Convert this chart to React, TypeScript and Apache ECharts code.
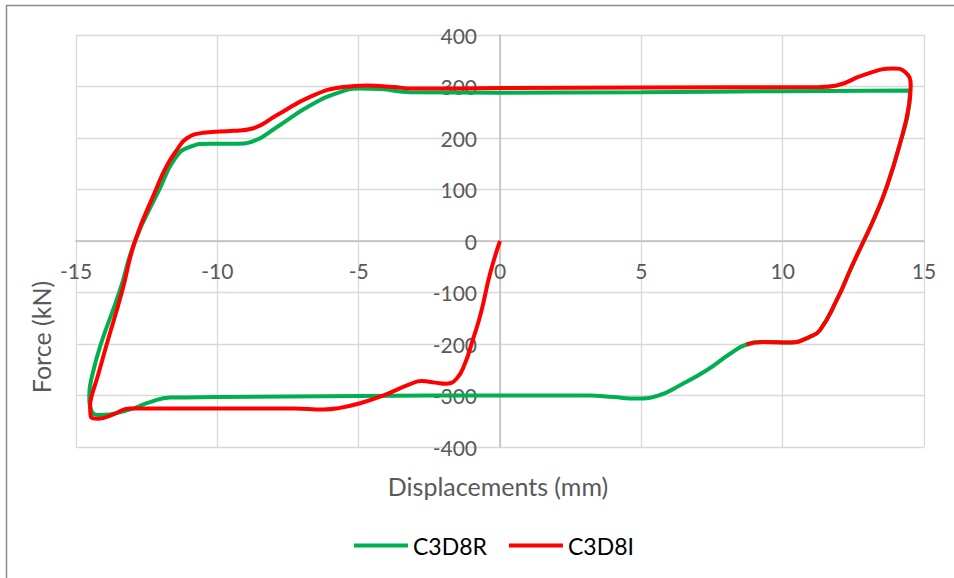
import React, { useEffect, useRef } from "react";
import * as echarts from "echarts";

// ---- data ----
const SERIES_NAMES = ["C3D8R", "C3D8I"];
const SERIES_COLORS = ["#00b050", "#ff0000"];

const X_MIN = -15;
const X_MAX = 15;
const X_STEP = 5;
const Y_MIN = -400;
const Y_MAX = 400;
const Y_STEP = 100;

const X_TITLE = "Displacements (mm)";
const Y_TITLE = "Force (kN)";

// C3D8R (green)
const C3D8R_X = [
  14.5, 14.48, 14.15, 13.68, 13.27, 12.85, 12.44, 11.91, 11.32, 10.96, 10.26, 9.31, 8.72,
  8.14, 7.31, 6.37, 5.66, 4.84, 4.0, 3.18, 0, -5, -10, -11.67, -12.38, -13.2, -14.15,
  -14.45, -14.53, -14.44, -14.12, -13.47, -12.91, -12.05, -11.5, -10.96, -10.26,
  -9.31, -8.72, -7.9, -6.72, -5.66, -4.95, -4.24, -3.18, 0, 5, 10, 14.5,
];
const C3D8R_Y = [
  292, 267, 189, 105, 48, -2, -50, -115, -173, -186, -197, -196, -201,
  -219, -251, -280, -299, -306, -303, -300, -300, -301, -303, -304, -313, -329, -338,
  -330, -300, -264, -200, -100, 0, 100, 160, 183, 189,
  189, 194, 221, 263, 289, 296, 295, 289, 288, 289, 291, 292,
];

// C3D8I (red)
const C3D8I_X = [
  0, -0.35, -0.68, -0.97, -1.24, -1.53, -1.89, -2.3, -2.77, -3.18, -4.13, -4.95,
  -5.66, -6.25, -7.3, -10.85, -13.09, -13.7, -14.2, -14.48, -14.5, -14.44, -14.24,
  -13.91, -13.38, -12.91, -12.17, -11.8, -11.44, -11.09, -10.5, -9.43, -8.79, -7.9,
  -6.72, -5.54, -4.72, -3.78, -3.07, 0, 5, 11.32, 11.91, 12.85, 13.91, 14.33, 14.53,
  14.48, 14.15, 13.68, 13.27, 12.85, 12.44, 11.91, 11.32, 10.96, 10.26, 9.31, 8.72,
];
const C3D8I_Y = [
  0, -63, -141, -193, -238, -267, -277, -275, -272, -278, -300, -315,
  -324, -327, -325, -325, -325, -337, -345, -340, -320, -300, -264,
  -200, -100, 0, 100, 145, 176, 199, 210, 214, 218, 244,
  280, 299, 302, 299, 296, 297, 298, 299, 302, 322, 335, 328, 302,
  267, 189, 105, 48, -2, -50, -115, -173, -186, -197, -196, -201,
];

const zip = (xs: number[], ys: number[]) => xs.map((x, i) => [x, ys[i]]);

const FONT = "Lato";
const AXIS_TEXT = "#595959";

// grid box
const G_LEFT = 76;
const G_TOP = 35;
const G_W = 848;
const G_H = 412;

export default function App() {
  const ref = useRef<HTMLDivElement>(null);

  useEffect(() => {
    document.body.style.margin = "0";
    const chart = echarts.init(ref.current!, null, { renderer: "svg" });
    chart.setOption({
      animation: false,
      backgroundColor: "#ffffff",
      grid: {
        left: G_LEFT,
        top: G_TOP,
        width: G_W,
        height: G_H,
        containLabel: false,
        outerBoundsMode: "none",
      },
      xAxis: {
        type: "value",
        min: X_MIN,
        max: X_MAX,
        interval: X_STEP,
        position: "bottom",
        // place the axis on y = 0
        offset: -(G_H * (0 - Y_MIN)) / (Y_MAX - Y_MIN),
        axisLine: { onZero: false, lineStyle: { color: "#bfbfbf", width: 1.5 } },
        axisTick: { show: false },
        axisLabel: {
          margin: 19,
          color: AXIS_TEXT,
          fontFamily: FONT,
          fontSize: 21,
        },
        splitLine: { show: true, lineStyle: { color: "#d9d9d9", width: 1.3 } },
      },
      yAxis: {
        type: "value",
        min: Y_MIN,
        max: Y_MAX,
        interval: Y_STEP,
        position: "left",
        // place the axis on x = 0
        offset: -(G_W * (0 - X_MIN)) / (X_MAX - X_MIN),
        axisLine: { show: true, onZero: false, lineStyle: { color: "#bfbfbf", width: 1.5 } },
        axisTick: { show: false },
        axisLabel: {
          margin: 23,
          color: AXIS_TEXT,
          fontFamily: FONT,
          fontSize: 21,
        },
        splitLine: { show: true, lineStyle: { color: "#d9d9d9", width: 1.3 } },
      },
      legend: {
        left: 349,
        top: 529,
        icon: "rect",
        itemWidth: 54,
        itemHeight: 4,
        itemGap: 22,
        textStyle: {
          color: "#000000",
          fontFamily: FONT,
          fontSize: 23,
        },
        data: SERIES_NAMES,
      },
      graphic: [
        {
          type: "rect",
          shape: { x: 6.5, y: 5.5, width: 1200, height: 1200 },
          style: { fill: "none", stroke: "#8c8c8c", lineWidth: 1.5 },
          silent: true,
        },
        {
          type: "text",
          x: 498,
          y: 486,
          style: {
            text: X_TITLE,
            fill: AXIS_TEXT,
            font: `25px ${FONT}`,
            align: "center",
            verticalAlign: "middle",
          },
        },
        {
          type: "text",
          x: 41,
          y: 337,
          rotation: Math.PI / 2,
          style: {
            text: Y_TITLE,
            fill: AXIS_TEXT,
            font: `25px ${FONT}`,
            align: "center",
            verticalAlign: "middle",
          },
        },
      ],
      series: [
        {
          name: SERIES_NAMES[0],
          type: "line",
          data: zip(C3D8R_X, C3D8R_Y),
          smooth: 0.5,
          symbol: "none",
          lineStyle: { color: SERIES_COLORS[0], width: 4 },
          itemStyle: { color: SERIES_COLORS[0] },
          z: 2,
        },
        {
          name: SERIES_NAMES[1],
          type: "line",
          data: zip(C3D8I_X, C3D8I_Y),
          smooth: 0.5,
          symbol: "none",
          lineStyle: { color: SERIES_COLORS[1], width: 4 },
          itemStyle: { color: SERIES_COLORS[1] },
          z: 3,
        },
      ],
    });
    return () => chart.dispose();
  }, []);

  return <div ref={ref} style={{ width: 954, height: 578 }} />;
}
